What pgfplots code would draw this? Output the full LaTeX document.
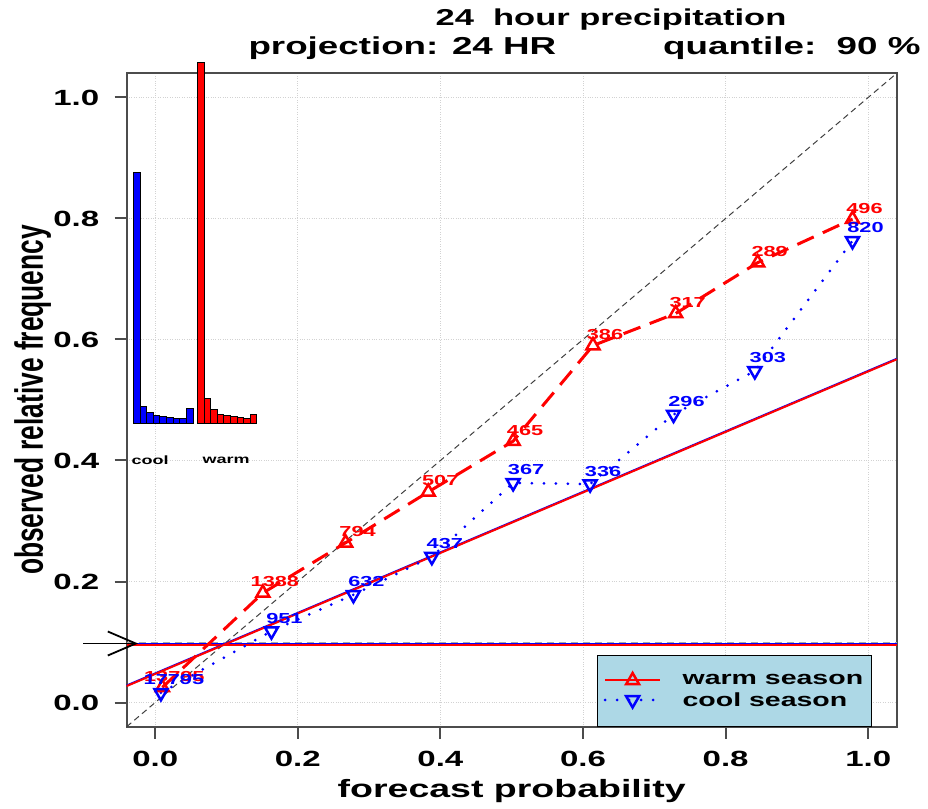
\documentclass[border=0pt]{standalone}
\usepackage{fontspec}
\setmainfont[FakeStretch=1.5]{Liberation Sans}
\newfontfamily\yfont[FakeStretch=0.667]{Liberation Sans}
\usepackage{pgfplots}
\pgfplotsset{compat=1.18}
\usepackage{pgfplotstable}
\usetikzlibrary{arrows.meta}
\definecolor{legblue}{RGB}{173,216,230}
\definecolor{rred}{RGB}{255,0,0}
\definecolor{rblue}{RGB}{0,0,255}

\pgfplotstableread{
x y lab
0.010 0.025 13795
0.151 0.181 1388
0.267 0.264 794
0.383 0.348 507
0.502 0.432 465
0.614 0.590 386
0.730 0.643 317
0.845 0.727 289
0.978 0.799 496
}\warmtab

\pgfplotstableread{
x y lab
0.008 0.016 17795
0.163 0.118 951
0.278 0.178 632
0.388 0.241 437
0.502 0.363 367
0.610 0.361 336
0.727 0.476 296
0.841 0.548 303
0.978 0.763 820
}\cooltab

\begin{document}
\begin{tikzpicture}
\useasboundingbox (-126.7pt,-81.3pt) rectangle (801.3pt,726.7pt);
\begin{axis}[
  name=main, at={(0pt,0pt)}, anchor=south west,
  scale only axis, width=770pt, height=653.4pt,
  xmin=-0.04, xmax=1.04, ymin=-0.04, ymax=1.04, clip=false,
  xtick={0,0.2,0.4,0.6,0.8,1}, ytick={0,0.2,0.4,0.6,0.8,1},
  xticklabels={0.0,0.2,0.4,0.6,0.8,1.0},
  yticklabels={0.0,0.2,0.4,0.6,0.8,1.0},
  tick label style={font=\fontsize{22}{22}\selectfont\bfseries},
  xticklabel style={yshift=-9pt},
  yticklabel style={xshift=-12pt},
  xtick pos=bottom, ytick pos=left,
  tick align=outside, major tick length=12pt,
  tick style={black!70, line width=2pt},
  axis line style={black!70, line width=2pt},
  grid=major, major grid style={gray!35, dotted, line width=1pt},
  xlabel={forecast probability},
  ylabel={\yfont observed relative frequency},
  xlabel style={at={(axis description cs:0.5,-0.1091)}, anchor=base,
    font=\fontsize{25}{25}\selectfont\bfseries},
  ylabel style={at={(axis description cs:-0.1087,0.5)}, anchor=base, rotate=0,
    font=\fontsize{39.5}{39.5}\selectfont\bfseries},
  legend style={at={(axis description cs:0.6108,0.1097)}, anchor=north west,
    draw=black, line width=1.2pt, fill=legblue,
    font=\fontsize{19}{19}\selectfont\bfseries,
    inner xsep=6pt, inner ysep=17pt, row sep=2pt,
    /tikz/every odd column/.append style={column sep=19pt}},
  legend cell align=left,
  legend image code/.code={\draw[mark repeat=2,mark phase=2,#1] plot coordinates {(0pt,0pt) (27.5pt,0pt) (55pt,0pt)};},
]
% diagonal
\addplot[black!75, line width=1pt, dash pattern=on 6pt off 4pt, forget plot] coordinates {(-0.04,-0.04) (1.04,1.04)};
% climatology lines
\addplot[gray!70, line width=2pt, dash pattern=on 7pt off 5pt, forget plot] coordinates {(-0.04,0.0987) (1.04,0.0987)};
\addplot[rblue, line width=2pt, forget plot] coordinates {(-0.04,0.0962) (1.04,0.0962)};
\addplot[rred, line width=2pt, forget plot] coordinates {(-0.04,0.0945) (1.04,0.0945)};
% no-skill lines
\addplot[rblue, line width=2pt, forget plot] coordinates {(-0.04,0.0281) (1.04,0.5681)};
\addplot[rred, line width=2pt, forget plot] coordinates {(-0.04,0.0272) (1.04,0.5672)};
% warm season
\addplot[rred, line width=3pt, dash pattern=on 18pt off 10pt,
  mark=triangle, mark size=7.5pt, mark options={solid, line width=2.5pt, fill=none},
  point meta=explicit symbolic, nodes near coords, nodes near coords align={anchor=center},
  every node near coord/.append style={font=\fontsize{14.5}{14.5}\selectfont\bfseries, text=rred, xshift=12pt, yshift=11pt, inner sep=0pt},
  forget plot] table[x=x, y=y, meta=lab] {\warmtab};
% cool season
\addplot[rblue, line width=3pt, dash pattern=on 0pt off 12pt, line cap=round,
  mark=triangle, mark size=7.5pt, mark options={solid, rotate=180, line width=2.5pt, fill=none},
  point meta=explicit symbolic, nodes near coords, nodes near coords align={anchor=center},
  every node near coord/.append style={font=\fontsize{14.5}{14.5}\selectfont\bfseries, text=rblue, xshift=13pt, yshift=13pt, inner sep=0pt},
  forget plot] table[x=x, y=y, meta=lab] {\cooltab};
% legend
\addlegendimage{rred, line width=2pt, mark=triangle, mark size=7.5pt, mark options={solid, line width=2.5pt}}
\addlegendentry{warm season\hspace{8pt}}
\addlegendimage{rblue, line width=3pt, dash pattern=on 0pt off 12pt, line cap=round, mark=triangle, mark size=7.5pt, mark options={solid, rotate=180, line width=2.5pt}}
\addlegendentry{cool season}
% arrow
\draw[black, line width=1.8pt, -{Straight Barb[length=28pt, width=24pt]}] (axis cs:-0.101,0.0975) -- (axis cs:-0.024,0.0975);
% inset labels
\node[font=\fontsize{12}{12}\selectfont\bfseries] at (axis cs:-0.007,0.400) {cool};
\node[font=\fontsize{12}{12}\selectfont\bfseries] at (axis cs:0.0996,0.400) {warm};
\end{axis}
% inset histograms
\begin{axis}[
  at={(0pt,0pt)}, anchor=south west,
  scale only axis, width=770pt, height=653.4pt,
  xmin=-0.04, xmax=1.04, ymin=-0.501, ymax=0.579,
  hide axis, clip=false]
\addplot[ybar interval, fill=rblue, draw=black, line width=1pt] coordinates {
(-0.0304,0.4156) (-0.0211,0.0285) (-0.0119,0.0190) (-0.0026,0.0131) (0.0067,0.0110)
(0.0159,0.0095) (0.0252,0.0089) (0.0344,0.0089) (0.0437,0.0246) (0.0530,0.0246)};
\addplot[ybar interval, fill=rred, draw=black, line width=1pt] coordinates {
(0.0593,0.5965) (0.0686,0.0411) (0.0778,0.0235) (0.0871,0.0152) (0.0963,0.0130)
(0.1056,0.0110) (0.1149,0.0094) (0.1241,0.0086) (0.1334,0.0147) (0.1426,0.0147)};
\end{axis}
% titles
\node[anchor=base, font=\fontsize{23}{23}\selectfont\bfseries] at (484.3pt,700.7pt) {24\ \ hour precipitation};
\node[anchor=base west, font=\fontsize{24.5}{24.5}\selectfont\bfseries] at (118.3pt,671.7pt) {projection: 24 HR};
\node[anchor=base east, font=\fontsize{24.5}{24.5}\selectfont\bfseries] at (797.3pt,671.7pt) {quantile:\ \ 90 \%};
\end{tikzpicture}
\end{document}
